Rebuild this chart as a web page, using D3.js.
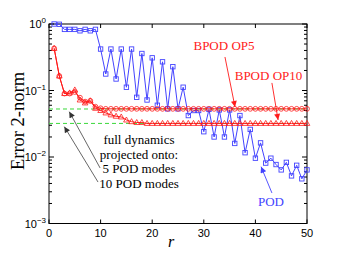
<!DOCTYPE html>
<html><head><meta charset="utf-8">
<script src="https://cdn.jsdelivr.net/npm/d3@7"></script>
<style>body{margin:0;background:#fff}svg{display:block}</style>
</head><body>
<svg id="c" width="346" height="259"></svg>
<script>
const rValues = [1,2,3,4,5,6,7,8,9,10,11,12,13,14,15,16,17,18,19,20,21,22,23,24,25,26,27,28,29,30,31,32,33,34,35,36,37,38,39,40,41,42,43,44,45,46,47,48,49,50];
const podErr = [1.0,0.99,0.83,0.83,0.83,0.79,0.83,0.79,0.83,0.42,0.177,0.42,0.149,0.42,0.112,0.42,0.079,0.36,0.072,0.31,0.06,0.27,0.053,0.228,0.053,0.112,0.042,0.05,0.05,0.024,0.052,0.020,0.051,0.020,0.051,0.016,0.042,0.0116,0.026,0.0096,0.0163,0.0081,0.0096,0.0077,0.0064,0.0083,0.0052,0.0075,0.0047,0.0064];
const bpod5Err = [0.43,0.165,0.09,0.09,0.095,0.078,0.068,0.07,0.057,0.054,0.053,0.053,0.053,0.053,0.053,0.053,0.053,0.053,0.053,0.053,0.053,0.053,0.053,0.053,0.053,0.053,0.053,0.053,0.053,0.053,0.053,0.053,0.053,0.053,0.053,0.053,0.053,0.053,0.053,0.053,0.053,0.053,0.053,0.053,0.053,0.053,0.053,0.053,0.053,0.053];
const bpod10Err = [0.43,0.165,0.09,0.092,0.102,0.072,0.065,0.07,0.054,0.05,0.046,0.043,0.041,0.04,0.036,0.034,0.033,0.033,0.032,0.032,0.032,0.032,0.032,0.032,0.032,0.032,0.032,0.032,0.032,0.032,0.032,0.032,0.032,0.032,0.032,0.032,0.032,0.032,0.032,0.032,0.032,0.032,0.032,0.032,0.032,0.032,0.032,0.032,0.032,0.032];
const projLevels = [0.0527, 0.032];
const xTicks = [0,10,20,30,40,50];
const yExponents = [0,-1,-2,-3];
const legendLabels = ["BPOD OP5","BPOD OP10","POD"];
const noteLines = ["full dynamics","projected onto:","5 POD modes","10 POD modes"];

const svg = d3.select("#c");
const L=49,R=307,T=24,B=223.5;
const x = d3.scaleLinear().domain([0,50]).range([L,R]);
const y = d3.scaleLog().domain([1e-3,1]).range([B,T]);
const blue="#4343ff", red="#ff1a1a", green="#3ad83a";

const defs = svg.append("defs");
function mk(id,col){
  defs.append("marker").attr("id",id).attr("viewBox","0 0 10 10").attr("refX",10).attr("refY",5)
   .attr("markerWidth",7).attr("markerHeight",6).attr("markerUnits","userSpaceOnUse").attr("orient","auto")
   .append("path").attr("d","M0,0L10,5L0,10z").attr("fill",col);
}
mk("ar",red);mk("ab",blue);mk("ak","#333");

// frame
svg.append("rect").attr("x",L).attr("y",T).attr("width",R-L).attr("height",B-T).attr("fill","none").attr("stroke","#000").attr("stroke-width",1);

// x ticks
const gx = svg.append("g");
xTicks.forEach(t=>{
  gx.append("line").attr("x1",x(t)).attr("x2",x(t)).attr("y1",B).attr("y2",B-4).attr("stroke","#000");
  gx.append("line").attr("x1",x(t)).attr("x2",x(t)).attr("y1",T).attr("y2",T+4).attr("stroke","#000");
  gx.append("text").attr("x",x(t)).attr("y",B+13).attr("text-anchor","middle")
    .attr("font-family","Liberation Sans, Arial, sans-serif").attr("font-size",11).text(t);
});
// y ticks
const gy = svg.append("g");
yExponents.forEach(e=>{
  const v=Math.pow(10,e);
  [[L,L+5],[R,R-5]].forEach(([a,b])=>gy.append("line").attr("x1",a).attr("x2",b).attr("y1",y(v)).attr("y2",y(v)).attr("stroke","#000"));
  if(e>-3){
    for(let k=2;k<=9;k++){
      const vv=v/10*k;
      [[L,L+3],[R,R-3]].forEach(([a,b])=>gy.append("line").attr("x1",a).attr("x2",b).attr("y1",y(vv)).attr("y2",y(vv)).attr("stroke","#000"));
    }
  }
  const tx = gy.append("text").attr("x",46).attr("y",y(v)+4).attr("text-anchor","end")
    .attr("font-family","Liberation Sans, Arial, sans-serif").attr("font-size",11);
  tx.append("tspan").text("10");
  tx.append("tspan").attr("dy",-5).attr("font-size",8).text(String(e).replace("-","\u2212"));
});

// axis titles
svg.append("text").attr("transform","translate(24,121) rotate(-90)").attr("text-anchor","middle")
  .attr("font-family","Liberation Serif, DejaVu Serif, serif").attr("font-size",18.5).text("Error 2-norm");
svg.append("text").attr("x",171).attr("y",247).attr("text-anchor","middle").attr("font-style","italic")
  .attr("font-family","Liberation Serif, DejaVu Serif, serif").attr("font-size",16).text("r");

// green projection lines
projLevels.forEach(v=>svg.append("line").attr("x1",x(0)).attr("x2",x(50)).attr("y1",y(v)).attr("y2",y(v))
  .attr("stroke",green).attr("stroke-width",1).attr("stroke-dasharray","4,3"));

const line = d3.line().x(d=>x(d[0])).y(d=>y(d[1]));
const d5 = rValues.map((r,i)=>[r,bpod5Err[i]]);
const d10 = rValues.map((r,i)=>[r,bpod10Err[i]]);
const dp = rValues.map((r,i)=>[r,podErr[i]]);

// POD
svg.append("path").datum(dp).attr("d",line).attr("fill","none").attr("stroke",blue).attr("stroke-width",1);
svg.selectAll(".sq").data(dp).enter().append("rect").attr("x",d=>x(d[0])-2.2).attr("y",d=>y(d[1])-2.2)
  .attr("width",4.4).attr("height",4.4).attr("fill","none").attr("stroke",blue).attr("stroke-width",0.9);

// BPOD OP10 triangles
svg.append("path").datum(d10).attr("d",line).attr("fill","none").attr("stroke",red).attr("stroke-width",1);
svg.selectAll(".tr").data(d10).enter().append("path")
  .attr("d",d=>{const cx=x(d[0]),cy=y(d[1]);return `M${cx},${cy-3}L${cx+2.8},${cy+2}L${cx-2.8},${cy+2}Z`;})
  .attr("fill","none").attr("stroke",red).attr("stroke-width",0.8);

// BPOD OP5 circles
svg.append("path").datum(d5).attr("d",line).attr("fill","none").attr("stroke",red).attr("stroke-width",1);
svg.selectAll(".ci").data(d5).enter().append("circle").attr("cx",d=>x(d[0])).attr("cy",d=>y(d[1])).attr("r",2.4)
  .attr("fill","none").attr("stroke",red).attr("stroke-width",0.8);

// annotations
const serif="Liberation Serif, DejaVu Serif, serif";
function arrow(x0,y0,x1,y1,col,m){
  svg.append("line").attr("x1",x(x0)).attr("y1",y(y0)).attr("x2",x(x1)).attr("y2",y(y1))
   .attr("stroke",col).attr("stroke-width",0.9).attr("marker-end",`url(#${m})`);
}
svg.append("text").attr("x",224).attr("y",50).attr("text-anchor","middle").attr("font-family",serif).attr("font-size",13).attr("fill",red).text(legendLabels[0]);
arrow(34.1,0.319,36.05,0.0565,red,"ar");
svg.append("text").attr("x",268.5).attr("y",80).attr("text-anchor","middle").attr("font-family",serif).attr("font-size",13).attr("fill",red).text(legendLabels[1]);
arrow(43.2,0.13,44.4,0.036,red,"ar");
svg.append("text").attr("x",271).attr("y",206).attr("text-anchor","middle").attr("font-family",serif).attr("font-size",13).attr("fill",blue).text(legendLabels[2]);
arrow(43.2,0.00288,41.1,0.00715,blue,"ab");

noteLines.forEach((t,i)=>svg.append("text").attr("x",139).attr("y",144+i*14.5).attr("text-anchor","middle")
  .attr("font-family",serif).attr("font-size",13).attr("fill","#000").text(t));
arrow(9.9,0.00684,3.93,0.048,"#555","ak");
arrow(9.5,0.0042,2.97,0.0286,"#555","ak");
</script>
</body></html>
